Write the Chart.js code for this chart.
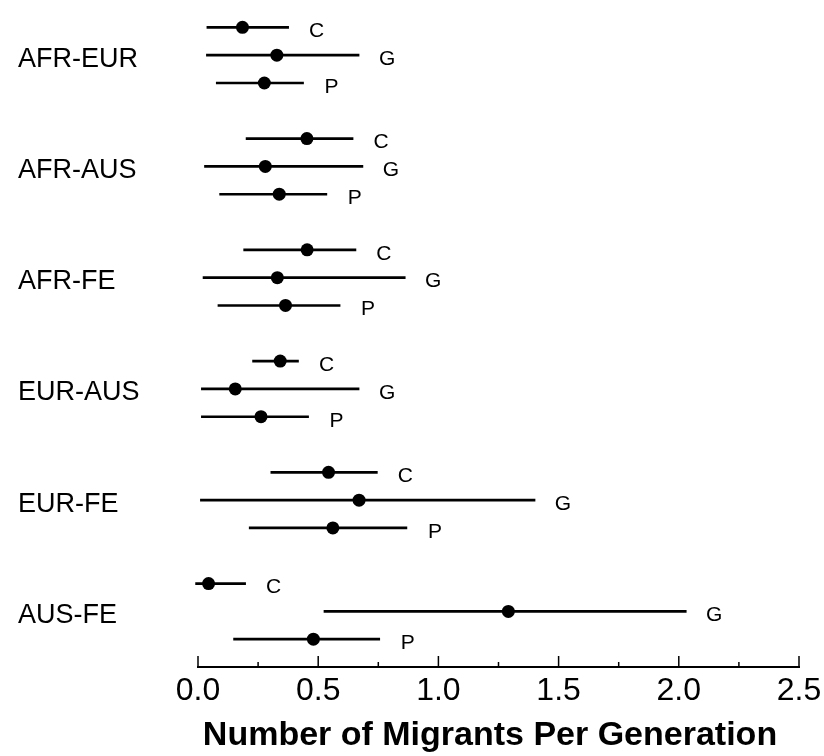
<!DOCTYPE html>
<html><head><meta charset="utf-8">
<script src="https://cdn.jsdelivr.net/npm/chart.js@4/dist/chart.umd.min.js"></script>
<style>html,body{margin:0;padding:0;background:#fff}#wrap{width:824px;height:756px;position:relative}</style>
</head><body><div id="wrap"><canvas id="c"></canvas></div>
<script>
// ---- data ----
const groups = ['AFR-EUR', 'AFR-AUS', 'AFR-FE', 'EUR-AUS', 'EUR-FE', 'AUS-FE'];
const seriesNames = ['C', 'G', 'P'];

const cMean = [0.185, 0.453, 0.454, 0.342, 0.543, 0.044];
const cLow  = [0.037, 0.200, 0.190, 0.227, 0.303, -0.010];
const cHigh = [0.377, 0.645, 0.657, 0.418, 0.746, 0.198];

const gMean = [0.328, 0.280, 0.330, 0.155, 0.670, 1.291];
const gLow  = [0.035, 0.027, 0.021, 0.014, 0.010, 0.524];
const gHigh = [0.670, 0.686, 0.862, 0.670, 1.402, 2.031];

const pMean = [0.276, 0.338, 0.364, 0.262, 0.561, 0.480];
const pLow  = [0.076, 0.090, 0.083, 0.014, 0.213, 0.148];
const pHigh = [0.439, 0.536, 0.591, 0.460, 0.869, 0.756];

const xTickValues = [0, 0.5, 1.0, 1.5, 2.0, 2.5];
const xMinorTickValues = [0.25, 0.75, 1.25, 1.75, 2.25];
const axisTitle = 'Number of Migrants Per Generation';

// ---- build ----
const series = [
  {name: seriesNames[0], mean: cMean, low: cLow, high: cHigh},
  {name: seriesNames[1], mean: gMean, low: gLow, high: gHigh},
  {name: seriesNames[2], mean: pMean, low: pLow, high: pHigh}
];
const ROWS_PER_GROUP = 4;
const rowOf = (g, s) => g * ROWS_PER_GROUP + s;
const FONT = '"Liberation Sans", Arial, Helvetica, sans-serif';

const datasets = [];
series.forEach((sr, s) => {
  datasets.push({
    type: 'bar', label: sr.name + ' range', indexAxis: 'y', grouped: false,
    data: groups.map((_, g) => ({y: rowOf(g, s), x: [sr.low[g], sr.high[g]]})),
    backgroundColor: '#000', borderWidth: 0, barThickness: 2, clip: false
  });
});
series.forEach((sr, s) => {
  datasets.push({
    type: 'scatter', label: sr.name,
    data: groups.map((_, g) => ({x: sr.mean[g], y: rowOf(g, s)})),
    backgroundColor: '#000', borderWidth: 0, pointRadius: 6.5, pointHoverRadius: 6.5, clip: false
  });
});

const decorPlugin = {
  id: 'decor',
  afterDatasetsDraw(chart) {
    const {ctx, chartArea, scales: {x, y}} = chart;
    ctx.save();
    const yb = chartArea.bottom;
    ctx.strokeStyle = '#000';
    ctx.lineWidth = 2;
    ctx.beginPath();
    ctx.moveTo(x.getPixelForValue(xTickValues[0]) - 1, yb);
    ctx.lineTo(x.getPixelForValue(xTickValues[xTickValues.length - 1]) + 1, yb);
    ctx.stroke();
    ctx.lineWidth = 1.5;
    xTickValues.forEach(v => {
      const px = x.getPixelForValue(v);
      ctx.beginPath(); ctx.moveTo(px, yb); ctx.lineTo(px, yb - 11); ctx.stroke();
    });
    xMinorTickValues.forEach(v => {
      const px = x.getPixelForValue(v);
      ctx.beginPath(); ctx.moveTo(px, yb); ctx.lineTo(px, yb - 5); ctx.stroke();
    });
    ctx.fillStyle = '#000';
    ctx.font = '21px ' + FONT;
    ctx.textAlign = 'center';
    ctx.textBaseline = 'middle';
    series.forEach((sr, s) => {
      groups.forEach((_, g) => {
        const px = x.getPixelForValue(sr.high[g]) + 28;
        const py = y.getPixelForValue(rowOf(g, s)) + 4;
        ctx.fillText(sr.name, px, py);
      });
    });
    // axis title
    ctx.font = 'bold 34px ' + FONT;
    ctx.textBaseline = 'alphabetic';
    ctx.fillText(axisTitle, 490, 745);
    ctx.restore();
  }
};

new Chart(document.getElementById('c'), {
  type: 'scatter',
  data: {datasets},
  options: {
    responsive: true, maintainAspectRatio: false, animation: false,
    layout: {padding: {left: 18, right: 25, top: 1, bottom: 0}},
    plugins: {legend: {display: false}, tooltip: {enabled: false}},
    scales: {
      x: {
        type: 'linear', position: 'bottom', min: 0, max: 2.5, offset: false,
        afterBuildTicks: sc => { sc.ticks = xTickValues.map(v => ({value: v})); },
        afterFit: sc => { sc.height = 89; sc.paddingLeft = 0; sc.paddingRight = 0; },
        grid: {display: false, drawTicks: false, offset: false},
        border: {display: false},
        ticks: {color: '#000', font: {family: FONT, size: 32}, padding: 5, maxRotation: 0, autoSkip: false,
                callback: v => Number(v).toFixed(1)},
        title: {display: false}
      },
      y: {
        type: 'linear', position: 'left', reverse: true, min: -0.75, max: 23, offset: false,
        afterBuildTicks: sc => { sc.ticks = groups.map((_, g) => ({value: rowOf(g, 1)})); },
        afterFit: sc => { sc.width = 180; sc.paddingTop = 0; sc.paddingBottom = 0; },
        grid: {display: false, drawTicks: false, offset: false},
        border: {display: false},
        ticks: {color: '#000', font: {family: FONT, size: 27}, crossAlign: 'far', padding: 0, autoSkip: false,
                labelOffset: 4, callback: (v, i) => groups[i]}
      }
    }
  },
  plugins: [decorPlugin]
});
</script>
</body></html>
